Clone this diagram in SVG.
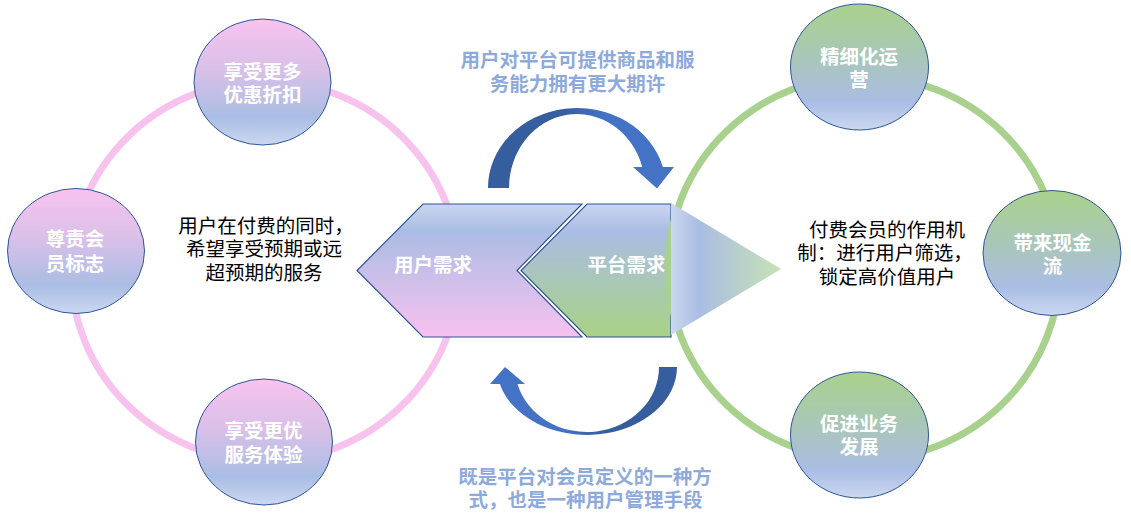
<svg xmlns="http://www.w3.org/2000/svg" width="1131" height="523" viewBox="0 0 1131 523">
<defs>
<linearGradient id="gPinkNode" x1="0" y1="0" x2="0" y2="1">
<stop offset="0" stop-color="#f8c3ef"/>
<stop offset="0.4" stop-color="#d9c0e8"/>
<stop offset="0.78" stop-color="#aabde4"/>
<stop offset="1" stop-color="#cbd8f0"/>
</linearGradient>
<linearGradient id="gGreenNode" x1="0" y1="0" x2="0" y2="1">
<stop offset="0" stop-color="#a9d28c"/>
<stop offset="0.4" stop-color="#a9c7b6"/>
<stop offset="0.78" stop-color="#aabde4"/>
<stop offset="1" stop-color="#cbd8f0"/>
</linearGradient>
<linearGradient id="gPinkChev" x1="0" y1="0" x2="0" y2="1">
<stop offset="0" stop-color="#c9d6ef"/>
<stop offset="0.2" stop-color="#aabde4"/>
<stop offset="1" stop-color="#f8c1f0"/>
</linearGradient>
<linearGradient id="gGreenChev" x1="0" y1="0" x2="0" y2="1">
<stop offset="0" stop-color="#c9d6ef"/>
<stop offset="0.2" stop-color="#aabde4"/>
<stop offset="0.95" stop-color="#a9d18b"/>
</linearGradient>
<linearGradient id="gTri" x1="0" y1="0" x2="1" y2="0">
<stop offset="0" stop-color="#cbd8f0"/>
<stop offset="0.25" stop-color="#aabde4"/>
<stop offset="1" stop-color="#c7e2b4"/>
</linearGradient>
<linearGradient id="gArrowTop" x1="0" y1="0" x2="1" y2="0">
<stop offset="0.4" stop-color="#365d9d"/>
<stop offset="0.62" stop-color="#4472c4"/>
</linearGradient>
<linearGradient id="gArrowBot" x1="0" y1="0" x2="1" y2="0">
<stop offset="0.4" stop-color="#4472c4"/>
<stop offset="0.62" stop-color="#365d9d"/>
</linearGradient>
</defs>
<style>
.ringP{fill:none;stroke:#f7c3ee;stroke-width:7}
.ringG{fill:none;stroke:#a9d18e;stroke-width:7}
.nodeP{fill:url(#gPinkNode);stroke:#2f5597;stroke-width:1}
.nodeG{fill:url(#gGreenNode);stroke:#2f5597;stroke-width:1}
.nt{font-family:"Noto Sans CJK SC","Noto Sans",sans-serif;font-size:19.5px;font-weight:bold;fill:#ffffff;text-anchor:middle}
.bt{font-family:"Noto Sans CJK SC","Noto Sans",sans-serif;font-size:19.5px;fill:#000000;text-anchor:middle}
.lt{font-family:"Noto Sans CJK SC","Noto Sans",sans-serif;font-size:19.5px;font-weight:bold;fill:#8eaadb;text-anchor:middle}
</style>
<g id="ring-left"><ellipse class="ringP" cx="265" cy="271" rx="194" ry="190"/></g>
<g id="chevron-user"><polygon points="423,204 582,204 517,270.5 582,337 423,337 357,270.5" fill="url(#gPinkChev)" stroke="#2f5597" stroke-width="1.2"/><text class="nt" x="433" y="271.5">用户需求</text></g>
<g id="chevron-platform"><polygon points="587,204 671,204 671,337 587,337 521,270.5" fill="url(#gGreenChev)" stroke="#2f5597" stroke-width="1.2"/><text class="nt" x="626.5" y="272">平台需求</text></g>
<g id="ring-right"><ellipse class="ringG" cx="864" cy="268" rx="196" ry="192"/></g>
<g id="triangle"><polygon points="671,203 781,269 671,335" fill="url(#gTri)"/></g>
<g id="connectors">
<path d="M488,188 A89,80 0 0 1 662.9,167 L674,167 L657,188.5 L633,167 L642.2,167 A68,74 0 0 0 509,188 Z" fill="url(#gArrowTop)"/>
<path d="M677,367 A90,68 0 0 1 499.9,384 L490,384 L505,367 L525,384 L517.5,384 A72,65 0 0 0 659,367 Z" fill="url(#gArrowBot)"/>
</g>
<g id="node-discount"><ellipse class="nodeP" cx="262.5" cy="82" rx="68.5" ry="63"/><text class="nt" x="262.5" y="78.5">享受更多</text><text class="nt" x="262.5" y="101.5">优惠折扣</text></g>
<g id="node-badge"><ellipse class="nodeP" cx="76" cy="251" rx="68.5" ry="62.5"/><text class="nt" x="75" y="246">尊责会</text><text class="nt" x="75" y="271">员标志</text></g>
<g id="node-service"><ellipse class="nodeP" cx="264" cy="442" rx="68.5" ry="63"/><text class="nt" x="263.5" y="437.5">享受更优</text><text class="nt" x="263.5" y="461.5">服务体验</text></g>
<g id="node-ops"><ellipse class="nodeG" cx="859.5" cy="67" rx="69" ry="63"/><text class="nt" x="859" y="63.5">精细化运</text><text class="nt" x="859" y="86.5">营</text></g>
<g id="node-cash"><ellipse class="nodeG" cx="1052" cy="253" rx="69" ry="62.5"/><text class="nt" x="1052.5" y="249.5">带来现金</text><text class="nt" x="1052.5" y="272.5">流</text></g>
<g id="node-growth"><ellipse class="nodeG" cx="859.5" cy="435" rx="69" ry="63"/><text class="nt" x="859" y="430.5">促进业务</text><text class="nt" x="859" y="454">发展</text></g>
<g id="text-left"><text class="bt" x="266" y="232.5">用户在付费的同时，</text><text class="bt" x="264" y="256">希望享受预期或远</text><text class="bt" x="264" y="279.5">超预期的服务</text></g>
<g id="text-right"><text class="bt" x="887" y="236.5">付费会员的作用机</text><text class="bt" x="885" y="259.5">制：进行用户筛选，</text><text class="bt" x="887" y="283.5">锁定高价值用户</text></g>
<g id="label-top"><text class="lt" x="577.5" y="66.5">用户对平台可提供商品和服</text><text class="lt" x="577.5" y="90.5">务能力拥有更大期许</text></g>
<g id="label-bottom"><text class="lt" x="585" y="483.5">既是平台对会员定义的一种方</text><text class="lt" x="585.5" y="507">式，也是一种用户管理手段</text></g>
</svg>
